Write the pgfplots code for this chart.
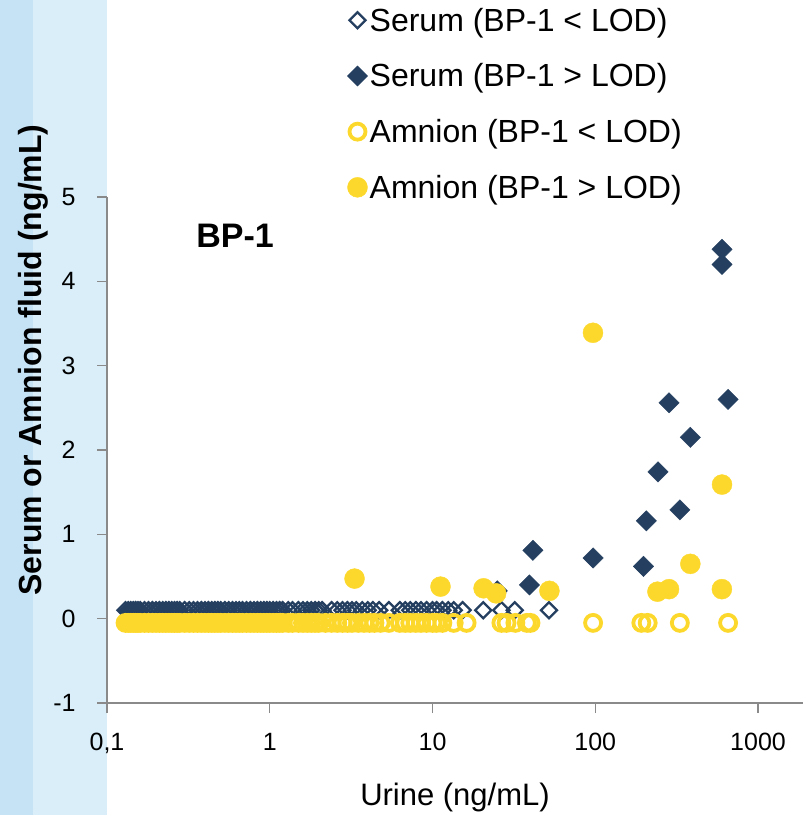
\documentclass[border=0pt]{standalone}
\usepackage{pgfplots}
\pgfplotsset{compat=1.18}
\usepackage{fontspec}
\setmainfont{Liberation Sans}
\definecolor{navy}{HTML}{243F60}
\definecolor{gold}{HTML}{FDD82C}
\definecolor{axgray}{HTML}{8A8A8A}
\definecolor{bandA}{HTML}{C6E3F6}
\definecolor{bandB}{HTML}{D9EEF9}
\begin{document}
\begin{tikzpicture}
\useasboundingbox (-107pt,-112pt) rectangle (696pt,703pt);
\fill[bandA] (-107pt,-112pt) rectangle (-74pt,703pt);
\fill[bandB] (-74pt,-112pt) rectangle (0pt,703pt);
\begin{axis}[
  at={(0pt,0pt)}, anchor=south west,
  scale only axis, width=696pt, height=506pt,
  xmode=log, xmin=0.1, xmax=1890, ymin=-1, ymax=5,
  axis x line=bottom, axis y line=left,
  axis line style={-, axgray, line width=1.6pt},
  every tick/.style={axgray, line width=1.4pt},
  tick align=outside, major tick length=10pt,
  xminorticks=false,
  xtick={0.1,1,10,100,1000},
  xticklabels={{0,1},1,10,100,1000},
  ytick={-1,0,1,2,3,4,5},
  /pgf/number format/assume math mode=true,
  tick label style={font=\fontsize{25}{30}\selectfont},
  xticklabel style={yshift=-17pt},
  yticklabel style={xshift=-18pt},
  xlabel={Urine (ng/mL)},
  xlabel style={font=\fontsize{31}{34}\selectfont, at={(axis description cs:0.5,-0.186)}, anchor=center},
  ylabel={Serum or Amnion fluid (ng/mL)},
  ylabel style={font=\bfseries\fontsize{32}{34}\selectfont, at={(axis description cs:-0.106,0.678)}, anchor=center},
  clip=false,
  legend cell align=left,
  legend style={draw=none, fill=none, font=\fontsize{32}{36}\selectfont,
    at={(axis description cs:0.345,1.378)}, anchor=north west,
    row sep=27pt, inner sep=0pt,
    /tikz/every even column/.append style={column sep=5pt}},
]
\addplot[only marks, color=navy, mark=square, mark size=5.7pt, mark options={rotate=45, draw=navy, line width=2.3pt, fill=none}]
coordinates {
(0.13,0.1)(0.135,0.1)(0.14,0.1)(0.145,0.1)(0.15,0.1)(0.155,0.1)(0.16,0.1)(0.17,0.1)(0.18,0.1)(0.19,0.1)
(0.2,0.1)(0.21,0.1)(0.22,0.1)(0.23,0.1)(0.24,0.1)(0.25,0.1)(0.26,0.1)(0.27,0.1)(0.28,0.1)(0.3,0.1)
(0.32,0.1)(0.34,0.1)(0.36,0.1)(0.38,0.1)(0.4,0.1)(0.42,0.1)(0.44,0.1)(0.46,0.1)(0.48,0.1)(0.5,0.1)
(0.53,0.1)(0.56,0.1)(0.59,0.1)(0.62,0.1)(0.65,0.1)(0.68,0.1)(0.72,0.1)(0.76,0.1)(0.8,0.1)(0.84,0.1)
(0.88,0.1)(0.92,0.1)(0.96,0.1)(1.0,0.1)(1.05,0.1)(1.1,0.1)(1.15,0.1)(1.2,0.1)(1.3,0.1)(1.38,0.1)
(1.5,0.1)(1.6,0.1)(1.7,0.1)(1.8,0.1)(1.9,0.1)(2.0,0.1)(2.1,0.1)(2.4,0.1)(2.6,0.1)(2.8,0.1)
(3.0,0.1)(3.2,0.1)(3.4,0.1)(3.7,0.1)(4.0,0.1)(4.3,0.1)(4.7,0.1)(5.4,0.1)(6.3,0.1)(6.8,0.1)
(7.3,0.1)(7.9,0.1)(8.5,0.1)(9.2,0.1)(10,0.1)(10.6,0.1)(11.5,0.1)(12.5,0.1)(13.5,0.1)(15.3,0.1)
(20.5,0.1)(26.5,0.1)(32,0.1)(52,0.1)
};
\addlegendentry{Serum (BP-1 < LOD)}
\addplot[only marks, color=navy, mark=square*, mark size=7.2pt, mark options={rotate=45, draw=navy, fill=navy}]
coordinates {
(25,0.33)(39.4,0.40)(41.4,0.81)(97,0.72)(198,0.62)(206,1.16)(243,1.74)(284,2.56)
(331,1.29)(384,2.15)(601,4.38)(601,4.20)(655,2.60)
};
\addlegendentry{Serum (BP-1 > LOD)}
\addplot[only marks, color=gold, mark=o, mark size=8pt, mark options={draw=gold, line width=3.8pt, fill=none}]
coordinates {
(0.13,-0.05)(0.135,-0.05)(0.14,-0.05)(0.145,-0.05)(0.15,-0.05)(0.155,-0.05)(0.16,-0.05)(0.17,-0.05)(0.18,-0.05)(0.19,-0.05)
(0.2,-0.05)(0.21,-0.05)(0.22,-0.05)(0.23,-0.05)(0.24,-0.05)(0.25,-0.05)(0.26,-0.05)(0.27,-0.05)(0.28,-0.05)(0.3,-0.05)
(0.32,-0.05)(0.34,-0.05)(0.36,-0.05)(0.38,-0.05)(0.4,-0.05)(0.42,-0.05)(0.44,-0.05)(0.46,-0.05)(0.48,-0.05)(0.5,-0.05)
(0.53,-0.05)(0.56,-0.05)(0.59,-0.05)(0.62,-0.05)(0.65,-0.05)(0.68,-0.05)(0.72,-0.05)(0.76,-0.05)(0.8,-0.05)(0.84,-0.05)
(0.88,-0.05)(0.92,-0.05)(0.96,-0.05)(1.0,-0.05)(1.05,-0.05)(1.1,-0.05)(1.15,-0.05)(1.2,-0.05)(1.3,-0.05)(1.38,-0.05)
(1.5,-0.05)(1.6,-0.05)(1.7,-0.05)(1.8,-0.05)(1.9,-0.05)(2.0,-0.05)(2.2,-0.05)(2.4,-0.05)(2.6,-0.05)(2.8,-0.05)
(3.0,-0.05)(3.2,-0.05)(3.5,-0.05)(3.8,-0.05)(4.1,-0.05)(4.4,-0.05)(4.8,-0.05)(5.4,-0.05)(6.3,-0.05)(6.8,-0.05)
(7.3,-0.05)(7.9,-0.05)(8.5,-0.05)(9.2,-0.05)(10,-0.05)(10.6,-0.05)(11.5,-0.05)(13.5,-0.05)(16.2,-0.05)(26.5,-0.05)
(28.5,-0.05)(32.3,-0.05)(38,-0.05)(40,-0.05)(97,-0.05)(192,-0.05)(210,-0.05)(331,-0.05)(655,-0.05)
};
\addlegendentry{Amnion (BP-1 < LOD)}
\addplot[only marks, color=gold, mark=*, mark size=10pt, mark options={draw=gold, fill=gold}]
coordinates {
(3.32,0.475)(11.2,0.38)(20.6,0.36)(24.6,0.30)(52.3,0.33)(96.8,3.39)(241,0.32)(284,0.35)
(384,0.65)(600,0.35)(601,1.59)
};
\addlegendentry{Amnion (BP-1 > LOD)}
\node[font=\bfseries\fontsize{34}{38}\selectfont] at (axis description cs:0.184,0.923) {BP-1};
\end{axis}
\end{tikzpicture}
\end{document}
